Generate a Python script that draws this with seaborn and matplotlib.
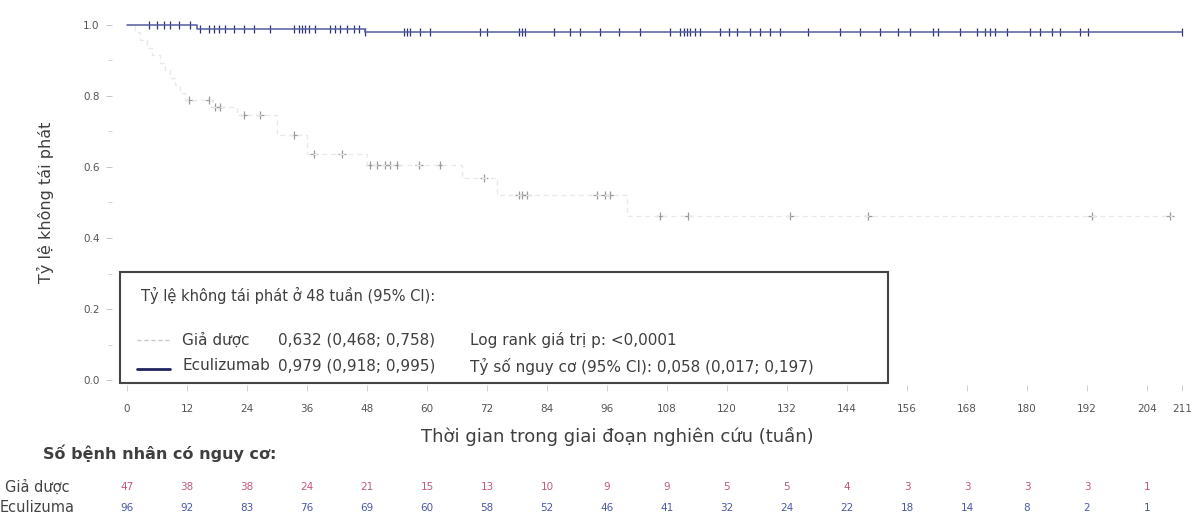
import numpy as np
import pandas as pd
import matplotlib
matplotlib.use("Agg")
import matplotlib.pyplot as plt
import matplotlib.transforms as mtransforms
from matplotlib.patches import Rectangle
from matplotlib.lines import Line2D
import seaborn as sns

# --- data ---
tick_weeks = [0, 12, 24, 36, 48, 60, 72, 84, 96, 108, 120, 132, 144, 156, 168, 180, 192, 204, 211]
risk_weeks = [0, 12, 24, 36, 48, 60, 72, 84, 96, 108, 120, 132, 144, 156, 168, 180, 192, 204]
placebo_risk = [47, 38, 38, 24, 21, 15, 13, 10, 9, 9, 5, 5, 4, 3, 3, 3, 3, 1]
ecu_risk = [96, 92, 83, 76, 69, 60, 58, 52, 46, 41, 32, 24, 22, 18, 14, 8, 2, 1]

placebo_t = [0, 1.5, 2.5, 4, 5, 6.5, 7.5, 8.5, 9.5, 10.5, 11.5, 17, 22, 30, 36, 48, 67, 74, 100, 209]
placebo_s = [1.0, 0.979, 0.957, 0.936, 0.915, 0.894, 0.872, 0.851, 0.830, 0.809, 0.790,
             0.770, 0.746, 0.690, 0.637, 0.606, 0.570, 0.520, 0.462, 0.462]
placebo_cens = [12.3, 16.3, 17.6, 18.6, 23.3, 26.6, 33.3, 37.3, 43, 48.6, 50, 51.6, 52.6, 54,
                58.3, 62.6, 71.3, 78.3, 79, 80, 94, 95.6, 96.6, 106.6, 112.2, 132.6, 148.2,
                193, 208.6]

ecu_t = [0, 14, 47.5, 211]
ecu_s = [1.0, 0.989, 0.979, 0.979]
ecu_cens = [4.3, 6, 7.3, 8.6, 10.3, 12.6, 14.6, 16.3, 17.3, 18.3, 19.6, 21.3, 23.3, 25.3, 28.6,
            33.3, 34.3, 35, 35.6, 36.3, 37.6, 40.6, 41.6, 42.6, 44, 45.3, 46.3, 47.6, 55.3, 56,
            56.6, 58.6, 60.6, 70.6, 72, 78.3, 79, 79.6, 85.3, 88.6, 90.6, 94.6, 98.3, 102.6,
            108.6, 110.6, 111.3, 112, 112.6, 113.6, 114.6, 118.6, 120.3, 121.9, 124.6, 126.6,
            128.6, 130.6, 136.2, 142.6, 146.6, 150.6, 154.2, 156.6, 161.2, 162.2, 166.6, 170,
            171.6, 172.6, 173.6, 176, 180.6, 182.6, 185, 186.6, 190.6, 192.2, 211]

PLACEBO_LINE = "#eee7e9"
PLACEBO_MARK = "#9a9a9a"
ECU_LINE = "#535ca2"
ECU_MARK = "#2e336e"
PLACEBO_NUM = "#c4587a"
ECU_NUM = "#4a58a8"
TXT = "#3f3f3f"
W, H = 1196, 522


def px(x, y):
    return x / W, 1 - y / H


def step_value(times, surv, at):
    idx = np.searchsorted(times, at, side="right") - 1
    return np.asarray(surv)[idx]


sns.set_style("ticks")
plt.rcParams["font.family"] = ["DejaVu Sans"]

fig = plt.figure(figsize=(W / 100, H / 100), dpi=100)
ax = fig.add_axes([112 / W, 1 - 385 / H, 1080 / W, 370 / H])

placebo_df = pd.DataFrame({"week": placebo_t, "surv": placebo_s})
ecu_df = pd.DataFrame({"week": ecu_t, "surv": ecu_s})
sns.lineplot(data=placebo_df, x="week", y="surv", drawstyle="steps-post", ax=ax,
             color=PLACEBO_LINE, linewidth=0.9, linestyle=(0, (4, 3)))
sns.lineplot(data=ecu_df, x="week", y="surv", drawstyle="steps-post", ax=ax,
             color=ECU_LINE, linewidth=1.1)

pc = pd.DataFrame({"week": placebo_cens,
                   "surv": step_value(placebo_t, placebo_s, placebo_cens)})
ec = pd.DataFrame({"week": ecu_cens, "surv": step_value(ecu_t, ecu_s, ecu_cens)})
sns.scatterplot(data=pc, x="week", y="surv", marker="+", s=40, color=PLACEBO_MARK,
                linewidth=0.9, ax=ax)
sns.scatterplot(data=ec, x="week", y="surv", marker="|", s=36, color=ECU_MARK,
                linewidth=0.9, ax=ax)
# stray mark inside the legend box in the reference
ax.scatter([129], [0.27], marker="+", s=25, color="#b0b0b0", linewidths=0.8, zorder=10)

ax.set_xlim(-3, 213)
ax.set_ylim(-0.014, 1.028)
ax.set_xticks(tick_weeks)
ax.set_xticklabels([str(t) for t in tick_weeks])
ax.set_yticks([0, 0.2, 0.4, 0.6, 0.8, 1.0])
ax.set_yticklabels(["0.0", "0.2", "0.4", "0.6", "0.8", "1.0"])
ax.set_yticks([0.1, 0.3, 0.5, 0.7, 0.9], minor=True)
ax.tick_params(axis="x", length=4, width=0.6, color="#c8c8c8", pad=10,
               labelsize=7.5, labelcolor="#555555")
ax.tick_params(axis="y", which="major", length=4, width=0.6, color="#bbbbbb", pad=5,
               labelsize=7.5, labelcolor="#555555")
ax.tick_params(axis="y", which="minor", length=3, width=0.6, color="#cccccc")
for s in ax.spines.values():
    s.set_visible(False)
ax.set_xlabel("")
ax.set_ylabel("")

fig.text(*px(45, 202), "Tỷ lệ không tái phát", rotation=90, ha="center", va="center",
         fontsize=11.5, color=TXT)
fig.text(*px(617, 437), "Thời gian trong giai đoạn nghiên cứu (tuần)", ha="center",
         va="center", fontsize=13, color=TXT)

# legend box
fig.patches.append(Rectangle(px(120, 383), 768 / W, 111 / H, transform=fig.transFigure,
                             fill=True, facecolor="white", edgecolor="#444444",
                             linewidth=1.5, zorder=5))
fig.text(*px(141, 295), "Tỷ lệ không tái phát ở 48 tuần (95% CI):", ha="left",
         va="center", fontsize=10.5, color=TXT, zorder=6)
fig.lines.append(Line2D([137 / W, 170 / W], [1 - 340 / H] * 2, transform=fig.transFigure,
                        color="#cfc6ca", linewidth=1.0, linestyle=(0, (3, 2)), zorder=6))
fig.lines.append(Line2D([137 / W, 170 / W], [1 - 369 / H] * 2, transform=fig.transFigure,
                        color="#1f2460", linewidth=2.0, zorder=6))
rows = [(340, "Giả dược", "0,632 (0,468; 0,758)", "Log rank giá trị p: <0,0001"),
        (366, "Eculizumab", "0,979 (0,918; 0,995)", "Tỷ số nguy cơ (95% CI): 0,058 (0,017; 0,197)")]
for y, name, rate, stat in rows:
    fig.text(*px(182, y), name, ha="left", va="center", fontsize=11, color=TXT, zorder=6)
    fig.text(*px(278, y), rate, ha="left", va="center", fontsize=11, color=TXT, zorder=6)
    fig.text(*px(470, y), stat, ha="left", va="center", fontsize=11, color=TXT, zorder=6)

# risk table
fig.text(*px(43, 453), "Số bệnh nhân có nguy cơ:", ha="left", va="center", fontsize=11.5,
         fontweight="bold", color=TXT)
fig.text(*px(5, 487), "Giả dược", ha="left", va="center", fontsize=10.5, color="#444444")
fig.text(*px(0, 508), "Eculizuma", ha="left", va="center", fontsize=10.5, color="#444444")
trans = mtransforms.blended_transform_factory(ax.transData, fig.transFigure)
for wk, p_n, e_n in zip(risk_weeks, placebo_risk, ecu_risk):
    ax.text(wk, 1 - 487 / H, str(p_n), transform=trans, ha="center", va="center",
            fontsize=7.5, color=PLACEBO_NUM)
    ax.text(wk, 1 - 508 / H, str(e_n), transform=trans, ha="center", va="center",
            fontsize=7.5, color=ECU_NUM)

fig.savefig("out.png", dpi=100)
